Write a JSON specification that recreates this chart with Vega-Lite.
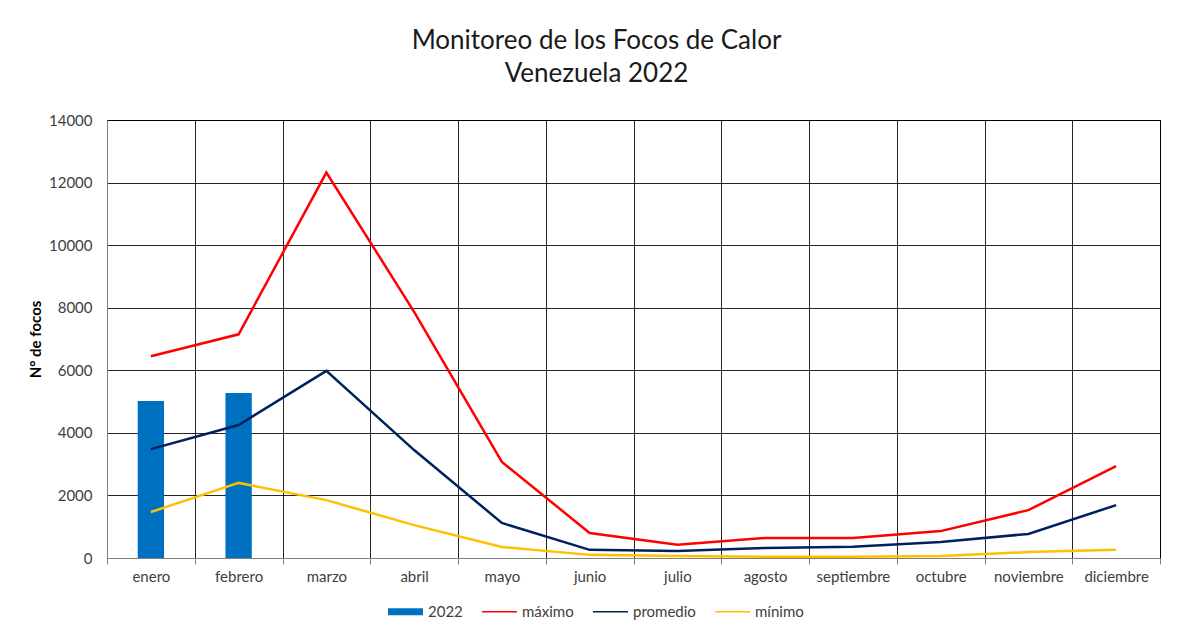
{
  "$schema": "https://vega.github.io/schema/vega-lite/v6.json",
  "width": 1053,
  "height": 438,
  "autosize": {"type": "none"},
  "padding": {"left": 107, "top": 120, "right": 21, "bottom": 75},
  "background": "white",
  "title": {
    "text": ["Monitoreo de los Focos de Calor", "Venezuela 2022"],
    "fontSize": 26,
    "fontWeight": "normal",
    "font": "Lato",
    "color": "#1a1a1a",
    "lineHeight": 33,
    "anchor": "middle",
    "dx": -37,
    "offset": 26
  },
  "config": {
    "font": "Lato",
    "view": {"stroke": "#000000", "strokeWidth": 1},
    "axis": {
      "labelFont": "Lato",
      "labelFontSize": 15,
      "labelColor": "#404040",
      "gridColor": "#000000",
      "gridOpacity": 0.85,
      "gridWidth": 1
    }
  },
  "data": {
    "values": [
      {"mes": "enero", "serie": "2022", "valor": 5020},
      {"mes": "febrero", "serie": "2022", "valor": 5270},
      {"mes": "enero", "serie": "máximo", "valor": 6450},
      {"mes": "febrero", "serie": "máximo", "valor": 7150},
      {"mes": "marzo", "serie": "máximo", "valor": 12320},
      {"mes": "abril", "serie": "máximo", "valor": 7870},
      {"mes": "mayo", "serie": "máximo", "valor": 3070},
      {"mes": "junio", "serie": "máximo", "valor": 800},
      {"mes": "julio", "serie": "máximo", "valor": 420},
      {"mes": "agosto", "serie": "máximo", "valor": 640},
      {"mes": "septiembre", "serie": "máximo", "valor": 640},
      {"mes": "octubre", "serie": "máximo", "valor": 860},
      {"mes": "noviembre", "serie": "máximo", "valor": 1530},
      {"mes": "diciembre", "serie": "máximo", "valor": 2940},
      {"mes": "enero", "serie": "promedio", "valor": 3480},
      {"mes": "febrero", "serie": "promedio", "valor": 4250},
      {"mes": "marzo", "serie": "promedio", "valor": 5980},
      {"mes": "abril", "serie": "promedio", "valor": 3450},
      {"mes": "mayo", "serie": "promedio", "valor": 1120},
      {"mes": "junio", "serie": "promedio", "valor": 260},
      {"mes": "julio", "serie": "promedio", "valor": 225},
      {"mes": "agosto", "serie": "promedio", "valor": 320},
      {"mes": "septiembre", "serie": "promedio", "valor": 360},
      {"mes": "octubre", "serie": "promedio", "valor": 510},
      {"mes": "noviembre", "serie": "promedio", "valor": 770},
      {"mes": "diciembre", "serie": "promedio", "valor": 1690},
      {"mes": "enero", "serie": "mínimo", "valor": 1470},
      {"mes": "febrero", "serie": "mínimo", "valor": 2400},
      {"mes": "marzo", "serie": "mínimo", "valor": 1850},
      {"mes": "abril", "serie": "mínimo", "valor": 1050},
      {"mes": "mayo", "serie": "mínimo", "valor": 350},
      {"mes": "junio", "serie": "mínimo", "valor": 100},
      {"mes": "julio", "serie": "mínimo", "valor": 60},
      {"mes": "agosto", "serie": "mínimo", "valor": 40},
      {"mes": "septiembre", "serie": "mínimo", "valor": 40},
      {"mes": "octubre", "serie": "mínimo", "valor": 60},
      {"mes": "noviembre", "serie": "mínimo", "valor": 190},
      {"mes": "diciembre", "serie": "mínimo", "valor": 260}
    ]
  },
  "encoding": {
    "x": {
      "field": "mes",
      "type": "nominal",
      "sort": ["enero", "febrero", "marzo", "abril", "mayo", "junio", "julio", "agosto", "septiembre", "octubre", "noviembre", "diciembre"],
      "scale": {"paddingInner": 0, "paddingOuter": 0},
      "axis": {
        "title": null,
        "labelAngle": 0,
        "bandPosition": 0,
        "grid": true,
        "tickBand": "extent",
        "domainColor": "#808080",
        "tickColor": "#808080",
        "tickSize": 6,
        "labelPadding": 5
      }
    },
    "y": {
      "field": "valor",
      "type": "quantitative",
      "scale": {"domain": [0, 14000], "nice": false},
      "axis": {
        "title": "N° de focos",
        "titleFont": "Lato",
        "titleFontSize": 15,
        "titleFontWeight": "bold",
        "titleColor": "#000000",
        "titlePadding": 5,
        "values": [0, 2000, 4000, 6000, 8000, 10000, 12000, 14000],
        "format": "d",
        "ticks": false,
        "labelPadding": 15,
        "domainColor": "#808080"
      }
    },
    "color": {
      "field": "serie",
      "type": "nominal",
      "scale": {
        "domain": ["2022", "máximo", "promedio", "mínimo"],
        "range": ["#0070C0", "#FF0000", "#002060", "#FFC000"]
      },
      "legend": {
        "title": null,
        "orient": "none",
        "direction": "horizontal",
        "legendX": 281,
        "legendY": 474,
        "labelFont": "Lato",
        "labelFontSize": 15,
        "labelColor": "#404040",
        "symbolSize": 1225,
        "columnPadding": 19,
        "labelOffset": 5,
        "encode": {
          "symbols": {
            "update": {
              "shape": {"signal": "datum.value === '2022' ? 'M-1,-0.2H1V0.2H-1Z' : 'M-1,-0.045H1V0.045H-1Z'"},
              "fill": {"scale": "color", "field": "value"},
              "strokeWidth": {"value": 0},
              "opacity": {"value": 1}
            }
          }
        }
      }
    }
  },
  "layer": [
    {
      "transform": [{"filter": "datum.serie === '2022'"}],
      "mark": {"type": "bar", "width": {"band": 0.3}}
    },
    {
      "transform": [{"filter": "datum.serie !== '2022'"}],
      "mark": {"type": "line", "strokeWidth": 2.5},
      "encoding": {"detail": {"field": "serie"}}
    }
  ]
}
